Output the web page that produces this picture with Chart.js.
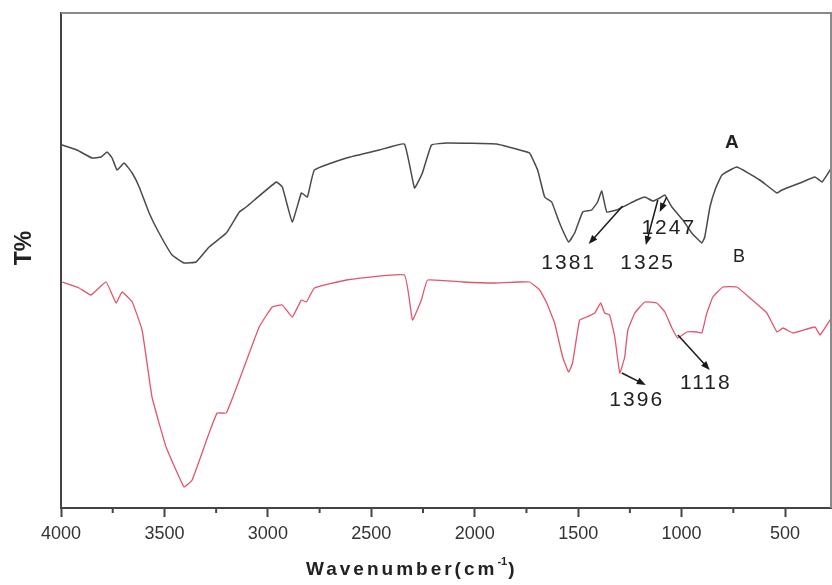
<!DOCTYPE html>
<html lang="en">
<head>
  <meta charset="UTF-8">
  <title>FTIR spectra A / B</title>
  <script src="https://cdn.jsdelivr.net/npm/chart.js"></script>
  <style>
    html, body { margin: 0; padding: 0; background: #fff; }
  </style>
</head>
<body>
<canvas id="irChart" width="832" height="585"></canvas>

<script>
  // spectrum A (grey/black)
  const wavenumbersA = [4000, 3995, 3923, 3850, 3806, 3777, 3753, 3729, 3695, 3656, 3622, 3574, 3526,
    3463, 3405, 3347, 3284, 3201, 3138, 3105, 2959, 2930, 2882, 2838, 2809, 2775, 2620, 2461, 2340,
    2291, 2253, 2209, 2136, 1894, 1783, 1735, 1696, 1662, 1628, 1590, 1546, 1517, 1478, 1435, 1406,
    1386, 1362, 1314, 1265, 1217, 1178, 1139, 1105, 1081, 1047, 994, 951, 902, 888, 863, 835, 805,
    733, 622, 539, 515, 428, 355, 321, 273];
  const transA = [72.6, 72.6, 71.6, 70.0, 70.2, 71.2, 70.0, 67.6, 69.0, 67.0, 64.2, 59.0, 55.0,
    50.6, 49.0, 49.2, 52.2, 55.0, 59.2, 60.2, 65.2, 64.2, 57.2, 63.0, 62.2, 67.6, 70.0, 71.6, 72.8,
    64.0, 67.0, 72.6, 73.0, 72.8, 71.6, 71.0, 67.6, 62.2, 61.2, 57.0, 53.2, 55.0, 59.2, 59.6, 61.2,
    63.4, 59.2, 59.6, 60.6, 61.6, 62.2, 61.4, 62.0, 62.6, 60.2, 57.6, 55.0, 53.0, 54.2, 60.2, 64.0, 66.6,
    68.2, 65.6, 63.0, 63.6, 65.0, 66.2, 65.2, 68.2];

  // spectrum B (red)
  const wavenumbersB = [3995, 3913, 3855, 3782, 3734, 3705, 3656, 3608, 3560, 3492, 3405, 3366, 3284,
    3245, 3201, 3138, 3042, 2979, 2930, 2882, 2838, 2814, 2775, 2620, 2340, 2301, 2258, 2228, 2059,
    1914, 1783, 1735, 1686, 1652, 1614, 1575, 1546, 1527, 1493, 1459, 1420, 1391, 1372, 1348, 1323,
    1299, 1275, 1260, 1226, 1178, 1120, 1081, 1047, 1018, 975, 926, 902, 878, 849, 800, 733, 670,
    588, 539, 510, 462, 355, 331, 273];
  const transB = [45.2, 44.0, 42.6, 45.2, 41.0, 43.2, 41.2, 35.6, 22.2, 12.2, 4.2, 5.6, 15.0,
    19.0, 19.0, 25.6, 36.2, 40.2, 40.6, 38.2, 41.6, 41.2, 44.0, 45.6, 46.6, 37.6, 41.6, 45.6, 45.2,
    45.0, 45.2, 45.2, 43.6, 41.0, 37.0, 30.2, 27.2, 29.0, 37.6, 38.2, 39.0, 41.0, 39.0, 38.6, 34.2,
    27.0, 30.2, 35.6, 39.0, 41.2, 41.0, 39.2, 36.0, 34.0, 35.2, 35.2, 35.0, 39.0, 42.2, 44.2, 44.2, 42.0,
    39.0, 35.2, 36.0, 35.0, 36.2, 34.6, 38.2];

  const majorTicks = [4000, 3500, 3000, 2500, 2000, 1500, 1000, 500];
  const minorTicks = [3750, 3250, 2750, 2250, 1750, 1250, 750];

  // peak labels [text, wavenumber, T%]
  const peakLabels = [
    ['A', 757, 73],
    ['B', 723, 50.2],
    ['1381', 1546, 49],
    ['1325', 1164, 49],
    ['1247', 1062, 56],
    ['1396', 1217, 21.6],
    ['1118', 883, 25]
  ];
  // arrows [fromWn, fromT, toWn, toT], head at "to"
  const peakArrows = [
    [1285, 60.4, 1449, 52.8],
    [1115, 61.6, 1173, 52.6],
    [1072, 62.2, 1106, 59.2],
    [1289, 27.0, 1173, 24.6],
    [1018, 34.6, 864, 27.6]
  ];

  function toPoints(xs, ys) {
    return xs.map((x, i) => ({x: x, y: ys[i]}));
  }

  function arrow(ctx, x1, y1, x2, y2) {
    const ang = Math.atan2(y2 - y1, x2 - x1);
    const len = 9, half = 3.5;
    ctx.beginPath();
    ctx.moveTo(x1, y1);
    ctx.lineTo(x2 - Math.cos(ang) * len * 0.6, y2 - Math.sin(ang) * len * 0.6);
    ctx.stroke();
    ctx.beginPath();
    ctx.moveTo(x2, y2);
    ctx.lineTo(x2 - Math.cos(ang) * len - Math.sin(ang) * half, y2 - Math.sin(ang) * len + Math.cos(ang) * half);
    ctx.lineTo(x2 - Math.cos(ang) * len + Math.sin(ang) * half, y2 - Math.sin(ang) * len - Math.cos(ang) * half);
    ctx.closePath();
    ctx.fill();
  }

  const decorations = {
    id: 'decorations',
    afterDraw(chart) {
      const {ctx, chartArea: area, scales: {x, y}} = chart;
      ctx.save();

      // top and right frame
      ctx.strokeStyle = '#8a8a8a';
      ctx.lineWidth = 2;
      ctx.beginPath();
      ctx.moveTo(area.left, area.top);
      ctx.lineTo(area.right - 1, area.top);
      ctx.lineTo(area.right - 1, area.bottom);
      ctx.stroke();

      // minor ticks
      ctx.strokeStyle = '#444';
      ctx.lineWidth = 2;
      for (const v of minorTicks) {
        const px = x.getPixelForValue(v);
        ctx.beginPath();
        ctx.moveTo(px, area.bottom);
        ctx.lineTo(px, area.bottom + 5);
        ctx.stroke();
      }

      // arrows
      ctx.strokeStyle = '#1a1a1a';
      ctx.fillStyle = '#1a1a1a';
      ctx.lineWidth = 1.5;
      for (const a of peakArrows) {
        arrow(ctx, x.getPixelForValue(a[0]), y.getPixelForValue(a[1]),
          x.getPixelForValue(a[2]), y.getPixelForValue(a[3]));
      }

      // peak labels
      ctx.textAlign = 'center';
      ctx.textBaseline = 'middle';
      ctx.fillStyle = '#222';
      for (const l of peakLabels) {
        if (l[0] === 'A') {
          ctx.font = 'bold 19px "Liberation Sans", Arial, sans-serif';
          ctx.letterSpacing = '0px';
        } else if (l[0] === 'B') {
          ctx.font = '18px "Liberation Sans", Arial, sans-serif';
          ctx.letterSpacing = '0px';
        } else {
          ctx.font = '21px "Liberation Sans", Arial, sans-serif';
          ctx.letterSpacing = '2px';
        }
        ctx.fillText(l[0], x.getPixelForValue(l[1]), y.getPixelForValue(l[2]));
      }

      // x axis title with superscript
      ctx.letterSpacing = '3px';
      ctx.textAlign = 'left';
      ctx.font = 'bold 19px "Liberation Sans", Arial, sans-serif';
      const main = 'Wavenumber(cm';
      let tx = 306;
      const ty = 570;
      ctx.fillText(main, tx, ty);
      tx += ctx.measureText(main).width;
      ctx.font = 'bold 11px "Liberation Sans", Arial, sans-serif';
      ctx.letterSpacing = '0px';
      ctx.fillText('-1', tx, ty - 8);
      tx += ctx.measureText('-1').width + 1;
      ctx.font = 'bold 19px "Liberation Sans", Arial, sans-serif';
      ctx.fillText(')', tx, ty);

      // y axis title
      ctx.translate(25, 248);
      ctx.rotate(-Math.PI / 2);
      ctx.textAlign = 'center';
      ctx.font = 'bold 23px "Liberation Sans", Arial, sans-serif';
      ctx.fillText('T%', 0, 0);

      ctx.restore();
    }
  };

  new Chart(document.getElementById('irChart'), {
    type: 'line',
    data: {
      datasets: [
        {
          label: 'A',
          data: toPoints(wavenumbersA, transA),
          borderColor: '#4a4a4a',
          borderWidth: 1.5,
          pointRadius: 0,
          tension: 0.1
        },
        {
          label: 'B',
          data: toPoints(wavenumbersB, transB),
          borderColor: 'rgb(222, 88, 108)',
          borderWidth: 1.3,
          pointRadius: 0,
          tension: 0.1
        }
      ]
    },
    options: {
      responsive: false,
      animation: false,
      layout: {padding: {top: 13, right: 0, left: 0, bottom: 0}},
      plugins: {
        legend: {display: false},
        tooltip: {enabled: false}
      },
      scales: {
        x: {
          type: 'linear',
          reverse: true,
          min: 273,
          max: 4000,
          afterBuildTicks(scale) {
            scale.ticks = majorTicks.map(v => ({value: v}));
          },
          afterFit(scale) {
            scale.height = 77;
            scale.paddingLeft = 0;
            scale.paddingRight = 0;
          },
          ticks: {
            maxRotation: 0,
            autoSkip: false,
            color: '#333',
            padding: 6,
            font: {family: '"Liberation Sans", Arial, sans-serif', size: 18},
            callback: v => String(v)
          },
          grid: {display: true, drawOnChartArea: false, tickLength: 9, tickColor: '#444', tickWidth: 2},
          border: {display: true, color: '#444', width: 2}
        },
        y: {
          min: 0,
          max: 99,
          afterFit(scale) { scale.width = 61; },
          ticks: {display: false},
          grid: {display: false},
          border: {display: true, color: '#444', width: 2}
        }
      }
    },
    plugins: [decorations]
  });
</script>
</body>
</html>
